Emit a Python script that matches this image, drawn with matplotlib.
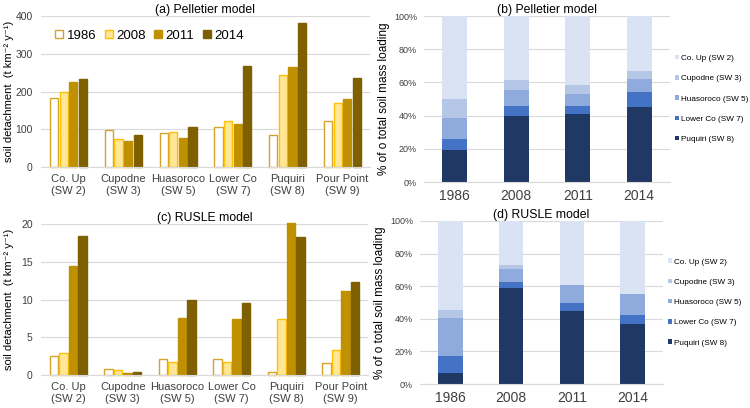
import numpy as np
import matplotlib
matplotlib.use('Agg')
import matplotlib.pyplot as plt
from matplotlib.ticker import PercentFormatter

plt.rcParams['font.family'] = ['Liberation Sans', 'DejaVu Sans']

# ---- data ----
sites = ['Co. Up\n(SW 2)', 'Cupodne\n(SW 3)', 'Huasoroco\n(SW 5)', 'Lower Co\n(SW 7)',
         'Puquiri\n(SW 8)', 'Pour Point\n(SW 9)']
years = ['1986', '2008', '2011', '2014']

# soil detachment per site, one list per year
pelletier = {
    '1986': [183, 97, 91, 105, 84, 121],
    '2008': [198, 73, 93, 122, 244, 169],
    '2011': [226, 69, 78, 114, 265, 180],
    '2014': [234, 86, 106, 268, 381, 236],
}
rusle = {
    '1986': [2.5, 0.75, 2.07, 2.1, 0.35, 1.58],
    '2008': [2.86, 0.65, 1.67, 1.67, 7.36, 3.26],
    '2011': [14.4, 0.3, 7.53, 7.36, 20.1, 11.15],
    '2014': [18.4, 0.45, 9.87, 9.6, 18.3, 12.3],
}

# % of total soil mass loading, stacked from bottom (Puquiri) to top (Co. Up)
stack_names = ['Puquiri (SW 8)', 'Lower Co (SW 7)', 'Huasoroco (SW 5)', 'Cupodne (SW 3)', 'Co. Up (SW 2)']
share_pelletier = [
    [19.1, 39.8, 40.8, 45.3],
    [6.9, 5.9, 4.9, 8.8],
    [12.8, 9.6, 7.2, 7.9],
    [10.9, 6.1, 5.6, 5.0],
    [50.3, 38.6, 41.5, 33.0],
]
share_rusle = [
    [6.5, 58.7, 45.0, 36.9],
    [10.8, 3.8, 4.9, 5.5],
    [23.0, 8.2, 10.8, 12.6],
    [5.3, 2.4, 0.1, 0.1],
    [54.4, 26.9, 39.2, 44.9],
]

year_face = {'1986': 'white', '2008': '#FFE699', '2011': '#BF9000', '2014': '#7F6000'}
year_edge = {'1986': '#D4A32A', '2008': '#FFC000', '2011': '#BF9000', '2014': '#7F6000'}
stack_colors = ['#1F3864', '#4472C4', '#8FAADC', '#B4C7E7', '#DAE3F3']

GRID = '#D9D9D9'


def style_axes(ax):
    for s in ['top', 'right', 'left']:
        ax.spines[s].set_visible(False)
    ax.spines['bottom'].set_color(GRID)
    ax.tick_params(length=0, colors='#404040')
    ax.yaxis.grid(True, color=GRID, lw=0.8)
    ax.set_axisbelow(True)


def detachment_panel(ax, data, ymax, ystep, title, legend=False):
    x = np.arange(len(sites))
    w = 0.15
    step = 0.175
    for i, yr in enumerate(years):
        ax.bar(x + (i - 1.5) * step, data[yr], w, color=year_face[yr],
               edgecolor=year_edge[yr], lw=1.0, label=yr, clip_on=False)
    ax.set_xlim(-0.5, len(sites) - 0.5)
    ax.set_ylim(0, ymax)
    ax.set_yticks(np.arange(0, ymax + 1, ystep))
    ax.set_xticks(x)
    ax.set_xticklabels(sites, fontsize=8, color='black', linespacing=1.25)
    ax.tick_params(axis='y', labelsize=7.5, pad=6)
    ax.tick_params(axis='x', pad=5)
    ax.set_ylabel('soil detachment  (t km\u207b\u00b2 y\u207b\u00b9)', fontsize=8)
    ax.yaxis.set_label_coords(-0.083, 0.5)
    ax.set_title(title, fontsize=8.8, pad=2)
    style_axes(ax)
    if legend:
        ax.legend(loc='upper left', bbox_to_anchor=(0.02, 0.96), ncol=4, frameon=False,
                  fontsize=9.5, handlelength=0.6, handleheight=0.6, handletextpad=0.25,
                  columnspacing=0.65, borderaxespad=0.2)


def share_panel(ax, shares, title):
    x = np.arange(len(years))
    bottom = np.zeros(len(years))
    handles = []
    for name, vals, col in zip(stack_names, shares, stack_colors):
        h = ax.bar(x, vals, 0.4, bottom=bottom, color=col, label=name)
        bottom += np.array(vals)
        handles.append(h)
    ax.set_xlim(-0.5, len(years) - 0.5)
    ax.set_ylim(0, 100)
    ax.set_yticks(np.arange(0, 101, 20))
    ax.yaxis.set_major_formatter(PercentFormatter(decimals=0))
    ax.set_xticks(x)
    ax.set_xticklabels(years, fontsize=10, color='black')
    ax.tick_params(axis='y', labelsize=6.5, pad=5)
    ax.tick_params(axis='x', pad=5)
    ax.set_ylabel('% of o total soil mass loading', fontsize=8.5, labelpad=3)
    ax.set_title(title, fontsize=8.8, pad=2)
    style_axes(ax)
    ax.legend(handles[::-1], [h.get_label() for h in handles[::-1]],
              loc='center left', bbox_to_anchor=(1.0, 0.5), frameon=False,
              fontsize=5.9, handlelength=0.45, handleheight=0.45, handletextpad=0.3,
              labelspacing=1.6, borderaxespad=0.25)


fig = plt.figure(figsize=(7.5, 4.08), dpi=100)
W, H = 750.0, 408.0


def box(x0, x1, ytop, ybot):
    return [x0 / W, 1 - ybot / H, (x1 - x0) / W, (ybot - ytop) / H]


ax_a = fig.add_axes(box(41, 370, 16, 167))
ax_b = fig.add_axes(box(424, 670, 16, 182))
ax_c = fig.add_axes(box(41, 368, 224, 375))
ax_d = fig.add_axes(box(420, 663, 221, 384))

detachment_panel(ax_a, pelletier, 400, 100, '(a) Pelletier model', legend=True)
detachment_panel(ax_c, rusle, 20, 5, '(c) RUSLE model')
share_panel(ax_b, share_pelletier, '(b) Pelletier model')
share_panel(ax_d, share_rusle, '(d) RUSLE model')

fig.savefig('out.png', dpi=100)
